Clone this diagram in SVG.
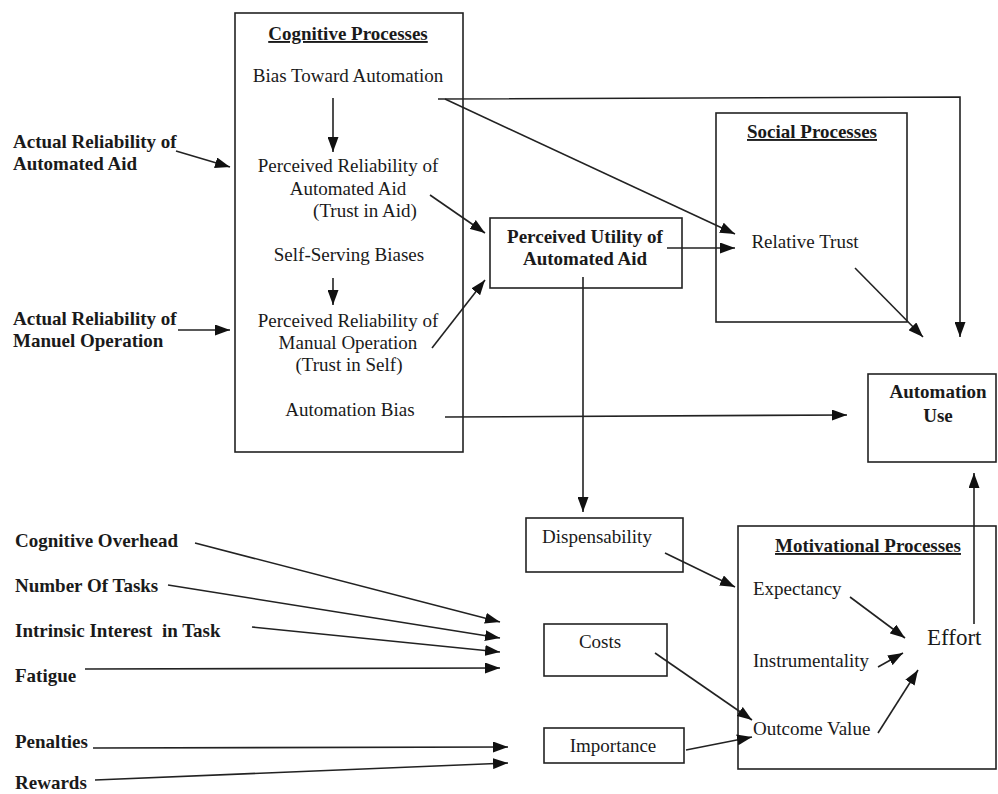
<svg xmlns="http://www.w3.org/2000/svg" width="998" height="794" viewBox="0 0 998 794">
<style>
text{font-family:"Liberation Serif","Times New Roman",serif;font-size:19px;fill:#1a1a1a}
.b{font-weight:bold}
.m{text-anchor:middle}
.u{text-decoration:underline}
.box{fill:none;stroke:#222;stroke-width:1.6}
.c line,.c polyline{stroke:#222;stroke-width:1.6;fill:none;marker-end:url(#ah)}
</style>
<defs>
<marker id="ah" viewBox="0 0 15 11" refX="15" refY="5.5" markerWidth="15" markerHeight="11" orient="auto" markerUnits="userSpaceOnUse">
<path d="M0,0 L15,5.5 L0,11 z" fill="#111"/>
</marker>
</defs>
<rect width="998" height="794" fill="#fff"/>

<g id="cognitive">
<rect class="box" x="235" y="13" width="228" height="439"/>
<text class="b m u" x="348" y="40">Cognitive Processes</text>
<text class="m" x="348" y="82">Bias Toward Automation</text>
<text class="m" x="348" y="172">Perceived Reliability of</text>
<text class="m" x="348" y="195">Automated Aid</text>
<text class="m" x="365" y="217">(Trust in Aid)</text>
<text class="m" x="349" y="261">Self-Serving Biases</text>
<text class="m" x="348" y="327">Perceived Reliability of</text>
<text class="m" x="348" y="349">Manual Operation</text>
<text class="m" x="349" y="371">(Trust in Self)</text>
<text class="m" x="350" y="416">Automation Bias</text>
</g>

<g id="actual-aid"><text class="b" x="13" y="148">Actual Reliability of</text><text class="b" x="13" y="170">Automated Aid</text></g>
<g id="actual-manual"><text class="b" x="13" y="325">Actual Reliability of</text><text class="b" x="13" y="347">Manuel Operation</text></g>

<g id="utility">
<rect class="box" x="490" y="218" width="192" height="70"/>
<text class="b m" x="585" y="243">Perceived Utility of</text>
<text class="b m" x="585" y="265">Automated Aid</text>
</g>

<g id="social">
<rect class="box" x="716" y="113" width="191" height="209"/>
<text class="b m u" x="812" y="138">Social Processes</text>
<text class="m" x="805" y="248">Relative Trust</text>
</g>

<g id="automation-use">
<rect class="box" x="868" y="374" width="128" height="88"/>
<text class="b m" x="938" y="398">Automation</text>
<text class="b m" x="938" y="422">Use</text>
</g>

<g id="dispensability">
<rect class="box" x="526" y="518" width="157" height="54"/>
<text class="m" x="597" y="543">Dispensability</text>
</g>

<g id="costs">
<rect class="box" x="544" y="624" width="123" height="52"/>
<text class="m" x="600" y="648">Costs</text>
</g>

<g id="importance">
<rect class="box" x="544" y="728" width="140" height="35"/>
<text class="m" x="613" y="752">Importance</text>
</g>

<g id="motivational">
<rect class="box" x="738" y="526" width="258" height="243"/>
<text class="b m u" x="868" y="552">Motivational Processes</text>
<text x="753" y="595">Expectancy</text>
<text x="753" y="667">Instrumentality</text>
<text x="753" y="735">Outcome Value</text>
<text x="927" y="645" style="font-size:23px">Effort</text>
</g>

<g id="cognitive-overhead"><text class="b" x="15" y="547">Cognitive Overhead</text></g>
<g id="number-of-tasks"><text class="b" x="15" y="592">Number Of Tasks</text></g>
<g id="intrinsic-interest"><text class="b" x="15" y="637" xml:space="preserve">Intrinsic Interest  in Task</text></g>
<g id="fatigue"><text class="b" x="15" y="682">Fatigue</text></g>
<g id="penalties"><text class="b" x="15" y="748">Penalties</text></g>
<g id="rewards"><text class="b" x="15" y="789">Rewards</text></g>

<g id="connectors" class="c">
<line x1="333" y1="98" x2="333" y2="152"/>
<line x1="333" y1="278" x2="333" y2="305"/>
<line x1="176" y1="151" x2="230" y2="167"/>
<line x1="178" y1="330" x2="230" y2="330"/>
<line x1="430" y1="195" x2="485" y2="233"/>
<line x1="432" y1="348" x2="485" y2="280"/>
<line x1="667" y1="248" x2="735" y2="248"/>
<polyline points="438,99 960,97 960,337"/>
<line x1="445" y1="99" x2="735" y2="234"/>
<line x1="855" y1="268" x2="923" y2="337"/>
<line x1="445" y1="417" x2="847" y2="415"/>
<line x1="583" y1="277" x2="583" y2="512"/>
<line x1="665" y1="553" x2="735" y2="587"/>
<line x1="850" y1="597" x2="905" y2="638"/>
<line x1="878" y1="667" x2="903" y2="653"/>
<line x1="878" y1="733" x2="918" y2="670"/>
<line x1="974" y1="624" x2="974" y2="473"/>
<line x1="655" y1="653" x2="752" y2="720"/>
<line x1="686" y1="750" x2="752" y2="737"/>
<line x1="195" y1="543" x2="500" y2="622"/>
<line x1="168" y1="585" x2="500" y2="638"/>
<line x1="252" y1="627" x2="500" y2="652"/>
<line x1="85" y1="669" x2="500" y2="668"/>
<line x1="93" y1="748" x2="508" y2="747"/>
<line x1="95" y1="780" x2="508" y2="763"/>
</g>
</svg>
